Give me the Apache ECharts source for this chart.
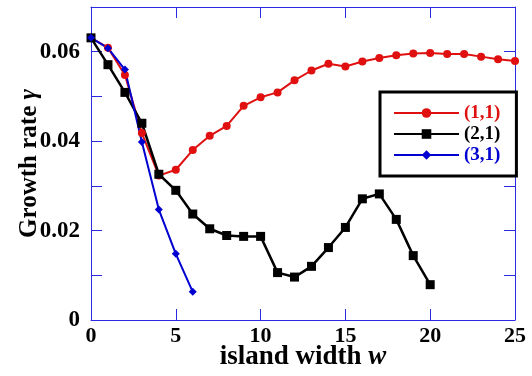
<!DOCTYPE html>
<html>
<head>
<meta charset="utf-8">
<script src="https://cdn.jsdelivr.net/npm/echarts@6/dist/echarts.min.js"></script>
<style>
  html, body { margin: 0; padding: 0; background: #fff; }
  #chart { width: 532px; height: 376px; }
</style>
</head>
<body>
<div id="chart"></div>
<script>
// island width w for each mode
const w11 = [0, 1, 2, 3, 4, 5, 6, 7, 8, 9, 10, 11, 12, 13, 14, 15, 16, 17, 18, 19, 20, 21, 22, 23, 24, 25];
const g11 = [0.0631, 0.0609, 0.0548, 0.0418, 0.0323, 0.0336, 0.0380, 0.0412, 0.0434, 0.0479, 0.0498, 0.0509,
             0.0536, 0.0558, 0.0573, 0.0567, 0.0578, 0.0586, 0.0592, 0.0596, 0.0597, 0.0595, 0.0595, 0.0589,
             0.0583, 0.0579];
const w21 = [0, 1, 2, 3, 4, 5, 6, 7, 8, 9, 10, 11, 12, 13, 14, 15, 16, 17, 18, 19, 20];
const g21 = [0.0631, 0.0571, 0.0509, 0.0440, 0.0326, 0.0290, 0.0237, 0.0204, 0.0189, 0.0187, 0.0187, 0.0106,
             0.0096, 0.0120, 0.0162, 0.0207, 0.0271, 0.0282, 0.0225, 0.0144, 0.0079];
const w31 = [0, 1, 2, 3, 4, 5, 6];
const g31 = [0.0631, 0.0608, 0.0560, 0.0398, 0.0247, 0.0148, 0.0063];

const modeNames = ["(1,1)", "(2,1)", "(3,1)"];
const modeColors = ["#e01010", "#000000", "#0000d0"];

const font = "Liberation Serif";
const axisBlue = "#2a2ae0";

function pairs(xs, ys) {
  return xs.map((x, i) => [x, ys[i]]);
}

const line_style = (color, width) => ({ color, width });

const chart = echarts.init(document.getElementById("chart"));

// shared look for the four sides of the box
const axis_style = {
  type: "value",
  splitLine: { show: false },
  axisLine: { onZero: false, lineStyle: { color: axisBlue, width: 1 } },
  axisTick: { inside: true, length: 11, lineStyle: { color: axisBlue } }
};
const x_range = { min: 0, max: 25, interval: 5 };
const y_range = { min: 0, max: 0.07, interval: 0.01 };

const title_rich = size => ({
  n: { fontFamily: font, fontWeight: "bold", fontSize: size, color: "#000" },
  i: { fontFamily: font, fontWeight: "bold", fontStyle: "italic", fontSize: size, color: "#000" }
});

chart.setOption({
  animation: false,
  grid: { left: 91, right: 17, top: 7, bottom: 56, containLabel: false, outerBoundsMode: "none" },
  xAxis: [
    Object.assign({}, axis_style, x_range, {
      position: "bottom",
      name: "{n|island width }{i|w}",
      nameLocation: "middle",
      nameGap: 24,
      nameMoveOverlap: false,
      nameTextStyle: { rich: title_rich(27) },
      axisLabel: { fontFamily: font, fontWeight: "bold", fontSize: 22, color: "#000", margin: 5 }
    }),
    Object.assign({}, axis_style, x_range, { position: "top", axisLabel: { show: false } })
  ],
  yAxis: [
    Object.assign({}, axis_style, y_range, {
      position: "left",
      name: "{n|Growth rate }{i|γ}",
      nameLocation: "middle",
      nameGap: 49,
      nameMoveOverlap: false,
      nameRotate: 90,
      nameTextStyle: { rich: title_rich(25) },
      axisLabel: {
        fontFamily: font, fontWeight: "bold", fontSize: 23, color: "#000", margin: 11,
        formatter: v => {
          const k = Math.round(v * 100);
          if (k === 0) return "0";
          return k % 2 === 0 ? (k / 100).toFixed(2) : "";
        }
      }
    }),
    Object.assign({}, axis_style, y_range, { position: "right", axisLabel: { show: false } })
  ],
  legend: {
    orient: "vertical",
    left: 380,
    top: 92,
    padding: [11, 16, 11, 13],
    itemGap: 1,
    itemWidth: 65,
    itemHeight: 12,
    borderColor: "#000",
    borderWidth: 3,
    borderRadius: 0,
    backgroundColor: "#fff",
    textStyle: { fontFamily: font, fontWeight: "bold", fontSize: 19, lineHeight: 20 },
    data: modeNames.map((n, i) => ({ name: n, textStyle: { color: modeColors[i] } }))
  },
  series: [
    {
      name: modeNames[0],
      type: "line",
      data: pairs(w11, g11),
      symbol: "circle",
      symbolSize: 8,
      itemStyle: { color: modeColors[0] },
      lineStyle: line_style(modeColors[0], 2)
    },
    {
      name: modeNames[1],
      type: "line",
      data: pairs(w21, g21),
      symbol: "rect",
      symbolSize: 9,
      itemStyle: { color: modeColors[1] },
      lineStyle: line_style(modeColors[1], 2.5)
    },
    {
      name: modeNames[2],
      type: "line",
      data: pairs(w31, g31),
      symbol: "diamond",
      symbolSize: 8,
      itemStyle: { color: modeColors[2] },
      lineStyle: line_style(modeColors[2], 2)
    }
  ]
});
</script>
</body>
</html>
